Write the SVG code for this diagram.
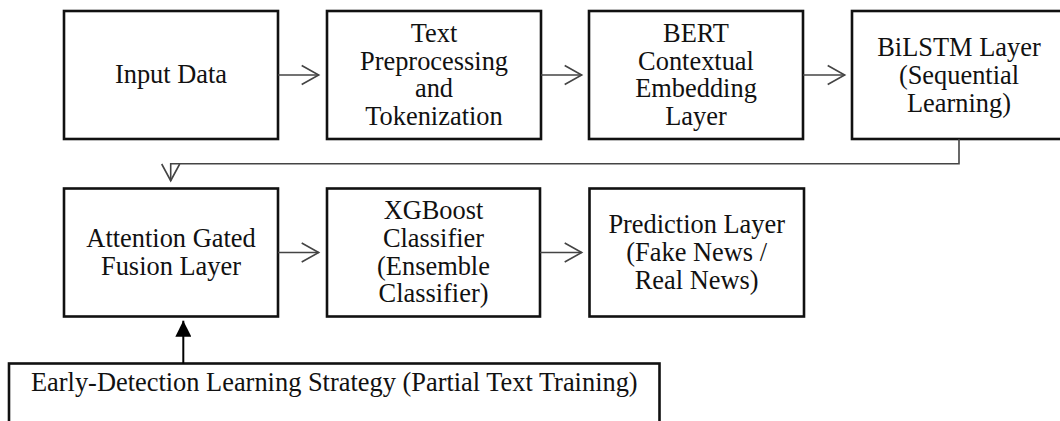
<svg xmlns="http://www.w3.org/2000/svg" width="1060" height="421" viewBox="0 0 1060 421">
  <style>
    .box { fill: #ffffff; stroke: #111111; stroke-width: 2.6; }
    .lbl { font-family: "Liberation Serif", "Times New Roman", serif; font-size: 26.4px; fill: #111111; text-anchor: middle; }
    .wire { fill: none; stroke: #444444; stroke-width: 1.6; }
    .head { fill: none; stroke: #444444; stroke-width: 1.6; stroke-linejoin: miter; }
    .feed { fill: none; stroke: #000000; stroke-width: 2; }
  </style>
  <defs>
    <marker id="solidHead" viewBox="0 0 16 16" refX="16" refY="8" markerWidth="16" markerHeight="16" markerUnits="userSpaceOnUse" orient="auto">
      <path d="M0,0 L16,8 L0,16 Z" fill="#000000"/>
    </marker>
  </defs>
  <rect width="1060" height="421" fill="#ffffff"/>

  <!-- pipeline row 1 -->
  <g id="input-data">
    <rect class="box" x="64" y="11" width="214" height="128"/>
    <text class="lbl" x="171" y="83.3">Input Data</text>
  </g>
  <g id="preprocessing">
    <rect class="box" x="327" y="11" width="214" height="128"/>
    <text class="lbl" x="434" y="41.7">Text</text>
    <text class="lbl" x="434" y="69.5">Preprocessing</text>
    <text class="lbl" x="434" y="97.3">and</text>
    <text class="lbl" x="434" y="125">Tokenization</text>
  </g>
  <g id="bert">
    <rect class="box" x="589" y="11" width="214" height="128"/>
    <text class="lbl" x="696" y="41.7">BERT</text>
    <text class="lbl" x="696" y="69.5">Contextual</text>
    <text class="lbl" x="696" y="97.3">Embedding</text>
    <text class="lbl" x="696" y="125">Layer</text>
  </g>
  <g id="bilstm">
    <rect class="box" x="852" y="11" width="214" height="128"/>
    <text class="lbl" x="959" y="56">BiLSTM Layer</text>
    <text class="lbl" x="959" y="83.8">(Sequential</text>
    <text class="lbl" x="959" y="111.6">Learning)</text>
  </g>

  <!-- pipeline row 2 -->
  <g id="attention-fusion">
    <rect class="box" x="64" y="188.5" width="214" height="128"/>
    <text class="lbl" x="171" y="246.7">Attention Gated</text>
    <text class="lbl" x="171" y="275">Fusion Layer</text>
  </g>
  <g id="xgboost">
    <rect class="box" x="327" y="188.5" width="213" height="128"/>
    <text class="lbl" x="433.5" y="219">XGBoost</text>
    <text class="lbl" x="433.5" y="246.8">Classifier</text>
    <text class="lbl" x="433.5" y="274.6">(Ensemble</text>
    <text class="lbl" x="433.5" y="302.4">Classifier)</text>
  </g>
  <g id="prediction">
    <rect class="box" x="589.5" y="188.5" width="214.5" height="128"/>
    <text class="lbl" x="696.7" y="233">Prediction Layer</text>
    <text class="lbl" x="696.7" y="260.8">(Fake News /</text>
    <text class="lbl" x="696.7" y="288.6">Real News)</text>
  </g>

  <!-- training strategy -->
  <g id="early-detection">
    <rect class="box" x="9" y="363.5" width="650.5" height="80"/>
    <text class="lbl" x="334.3" y="390.7">Early-Detection Learning Strategy (Partial Text Training)</text>
  </g>

  <g id="connectors">
    <!-- row 1 -->
    <path class="wire" d="M278,75 H318.7"/>
    <path class="head" d="M301.7,65.5 L318.7,75 L301.7,84.5"/>
    <path class="wire" d="M541,75 H581.7"/>
    <path class="head" d="M564.7,65.5 L581.7,75 L564.7,84.5"/>
    <path class="wire" d="M803,75 H844.7"/>
    <path class="head" d="M827.7,65.5 L844.7,75 L827.7,84.5"/>
    <!-- wrap to row 2 -->
    <path class="wire" d="M959,139 V163.7 H170.7 V180.7"/>
    <path class="head" d="M161.7,164 L170.7,180.7 L179.7,164"/>
    <!-- row 2 -->
    <path class="wire" d="M278,252.5 H318.7"/>
    <path class="head" d="M301.7,243 L318.7,252.5 L301.7,262"/>
    <path class="wire" d="M540,252.5 H581.7"/>
    <path class="head" d="M564.7,243 L581.7,252.5 L564.7,262"/>
    <!-- strategy feed into fusion -->
    <path class="feed" d="M183.3,363.5 V320.7" marker-end="url(#solidHead)"/>
  </g>
</svg>
